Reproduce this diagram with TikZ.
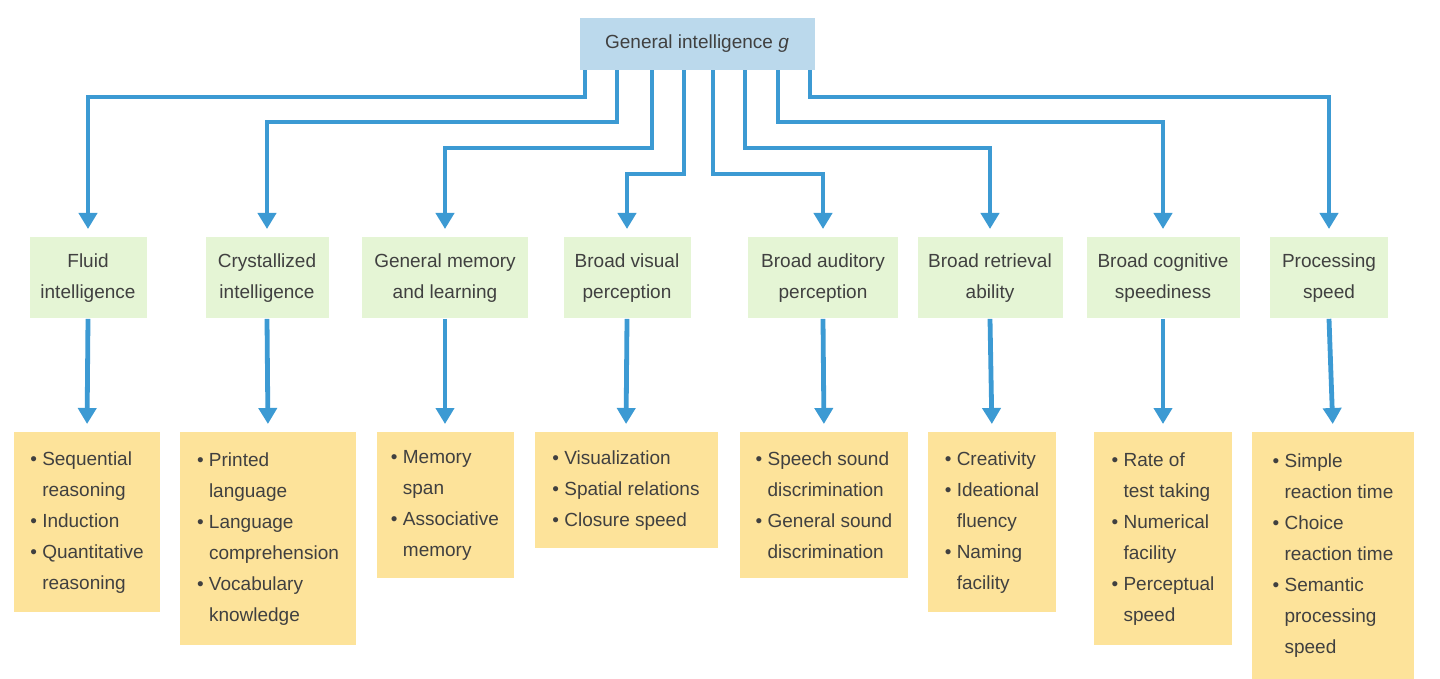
\documentclass[tikz,border=0pt]{standalone}
\usepackage{fontspec}
\setmainfont{Liberation Sans}
\usetikzlibrary{arrows.meta,positioning,calc}

\definecolor{topblue}{HTML}{BBD9EC}
\definecolor{abgreen}{HTML}{E5F5D5}
\definecolor{skyell}{HTML}{FDE39A}
\definecolor{linkblue}{HTML}{3C9AD3}

\newcommand{\itm}[1]{\textbullet\ #1}
\newcommand{\cnt}[1]{\phantom{\textbullet\ }#1}

\begin{document}
\begin{tikzpicture}[x=0.5pt, y=-0.5pt,
    every node/.style={font=\fontsize{9.5}{15.5}\selectfont, text=black!75, inner sep=0pt},
    gnode/.style={fill=topblue, minimum width=117.5pt, minimum height=26pt},
    ability/.style={fill=abgreen, anchor=north, minimum height=40.5pt, align=center},
    skill/.style={fill=skyell, anchor=north, align=left},
    link/.style={draw=linkblue, line width=2.4pt, -{Triangle[width=9pt,length=8pt]}, shorten >=4pt}]

    \useasboundingbox (0,0) rectangle (1440,679);

    % Top of the tree
    \node[gnode] (G) at (697,44) {General intelligence \textit{g}};

    % Broad abilities
    \node[ability, minimum width=58.5pt] (A1) at (88,237) {Fluid\\intelligence};
    \node[ability, minimum width=61.5pt] (A2) at (267,237) {Crystallized\\intelligence};
    \node[ability, minimum width=83pt] (A3) at (445,237) {General memory\\and learning};
    \node[ability, minimum width=63.5pt] (A4) at (627,237) {Broad visual\\perception};
    \node[ability, minimum width=75pt] (A5) at (823,237) {Broad auditory\\perception};
    \node[ability, minimum width=72.5pt] (A6) at (990,237) {Broad retrieval\\ability};
    \node[ability, minimum width=76.5pt] (A7) at (1163,237) {Broad cognitive\\speediness};
    \node[ability, minimum width=59pt] (A8) at (1329,237) {Processing\\speed};

    % Narrow skills
    \node[skill, minimum width=73pt, minimum height=90pt] (S1) at (87,432)
      {\itm{Sequential}\\\cnt{reasoning}\\\itm{Induction}\\\itm{Quantitative}\\\cnt{reasoning}};
    \node[skill, minimum width=88pt, minimum height=106.5pt] (S2) at (268,432)
      {\itm{Printed}\\\cnt{language}\\\itm{Language}\\\cnt{comprehension}\\\itm{Vocabulary}\\\cnt{knowledge}};
    \node[skill, minimum width=68.5pt, minimum height=73pt] (S3) at (445,432)
      {\itm{Memory}\\\cnt{span}\\\itm{Associative}\\\cnt{memory}};
    \node[skill, minimum width=91.5pt, minimum height=58pt] (S4) at (626,432)
      {\itm{Visualization}\\\itm{Spatial relations}\\\itm{Closure speed}};
    \node[skill, minimum width=84pt, minimum height=73pt] (S5) at (824,432)
      {\itm{Speech sound}\\\cnt{discrimination}\\\itm{General sound}\\\cnt{discrimination}};
    \node[skill, minimum width=64pt, minimum height=90pt] (S6) at (992,432)
      {\itm{Creativity}\\\itm{Ideational}\\\cnt{fluency}\\\itm{Naming}\\\cnt{facility}};
    \node[skill, minimum width=69pt, minimum height=106.5pt] (S7) at (1163,432)
      {\itm{Rate of}\\\cnt{test taking}\\\itm{Numerical}\\\cnt{facility}\\\itm{Perceptual}\\\cnt{speed}};
    \node[skill, minimum width=81pt, minimum height=123.5pt] (S8) at (1333,432)
      {\itm{Simple}\\\cnt{reaction time}\\\itm{Choice}\\\cnt{reaction time}\\\itm{Semantic}\\\cnt{processing}\\\cnt{speed}};

    % Connectors from g to the broad abilities
    \foreach \i/\x/\y in {1/585/97, 2/617/122, 3/652/148, 4/684/174,
                          5/713/174, 6/745/148, 7/778/122, 8/810/97}
      \draw[link] ($(G.south)+(\x-697,0)$) |- ($(A\i.north)+(0,\y-237)$) -- (A\i.north);

    % Connectors from abilities to skills
    \foreach \i in {1,...,8}
      \draw[link] (A\i.south) -- (S\i.north);
\end{tikzpicture}
\end{document}
